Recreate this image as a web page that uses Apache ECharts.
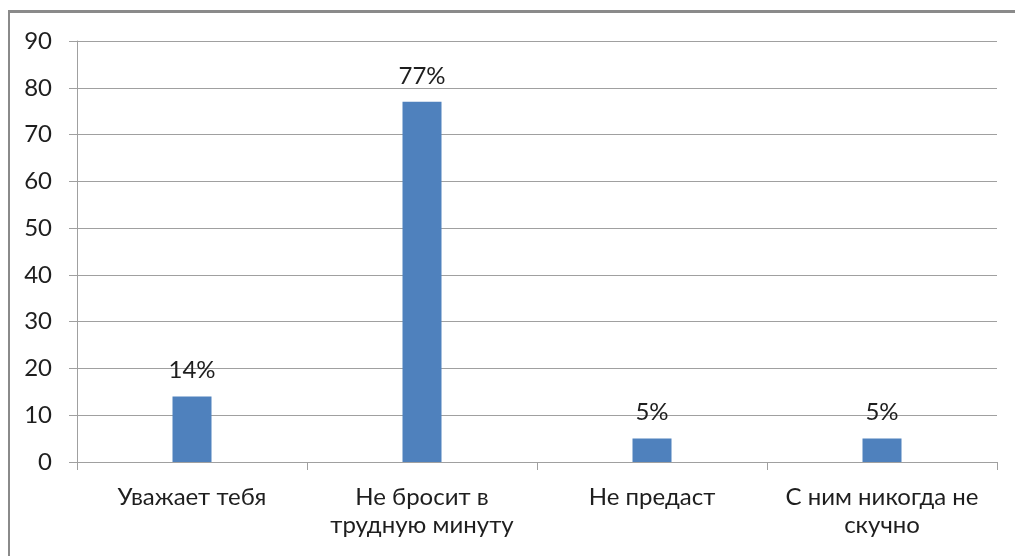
<!DOCTYPE html>
<html><head><meta charset="utf-8">
<script src="https://cdn.jsdelivr.net/npm/echarts@6/dist/echarts.min.js"></script>
<style>
html,body{margin:0;padding:0;background:#fff;}
#frame{position:absolute;left:8px;top:10px;width:1100px;height:600px;border-left:2px solid #8a8a8a;border-top:3px solid #8a8a8a;box-sizing:border-box;}
#c{position:absolute;left:0;top:0;width:1015px;height:556px;}
</style></head>
<body>
<div id="frame"></div>
<div id="c"></div>
<script>
const categories = ['Уважает тебя', 'Не бросит в\nтрудную минуту', 'Не предаст', 'С ним никогда не\nскучно'];
const values = [14, 77, 5, 5];
const valueLabels = ['14%', '77%', '5%', '5%'];

const chart = echarts.init(document.getElementById('c'));
const font = 'Lato, "Open Sans", sans-serif';
chart.setOption({
  animation: false,
  grid: {left: 77, right: 18, top: 41, bottom: 94, containLabel: false},
  xAxis: {
    type: 'category',
    data: categories,
    axisLine: {lineStyle: {color: '#a0a0a0', width: 1}},
    axisTick: {show: true, length: 8, alignWithLabel: false, lineStyle: {color: '#a0a0a0'}},
    axisLabel: {color: '#1e1e1e', fontSize: 24, fontFamily: font, margin: 21, lineHeight: 28, interval: 0}
  },
  yAxis: {
    type: 'value', min: 0, max: 90, interval: 10,
    axisLine: {show: true, lineStyle: {color: '#a0a0a0'}},
    axisTick: {show: true, length: 8, inside: false, lineStyle: {color: '#a0a0a0'}},
    splitLine: {lineStyle: {color: '#a0a0a0'}},
    axisLabel: {color: '#1e1e1e', fontSize: 24, fontFamily: font, margin: 25}
  },
  series: [{
    type: 'bar',
    data: values,
    barWidth: 39,
    itemStyle: {color: '#4F81BD'},
    label: {
      show: true, position: 'top', distance: 14,
      color: '#1e1e1e', fontSize: 24, fontFamily: font,
      formatter: p => valueLabels[p.dataIndex]
    }
  }]
});
</script>
</body></html>
